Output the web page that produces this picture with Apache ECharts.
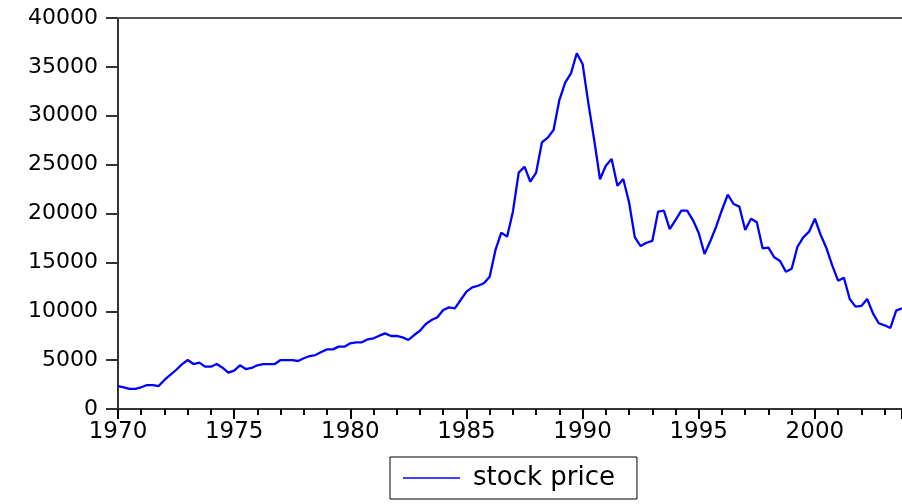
<!DOCTYPE html>
<html>
<head>
<meta charset="utf-8">
<script src="https://cdn.jsdelivr.net/npm/echarts@6/dist/echarts.min.js"></script>
<style>
  html, body { margin: 0; padding: 0; background: #fff; }
  #chart { width: 902px; height: 504px; }
</style>
</head>
<body>
<div id="chart"></div>
<script>
// quarterly stock price, 1970Q1 .. 2003Q4
const startYear = 1970
const seriesName = 'stock price'
const prices = [
  2350, 2220, 2050, 2050, 2220, 2450, 2450, 2350,      // 1970-71
  2970, 3480, 3990, 4570, 5010, 4600, 4740, 4330,      // 1972-73
  4330, 4600, 4230, 3720, 3920, 4470, 4090, 4200,      // 1974-75
  4470, 4600, 4600, 4600, 5010, 5010, 5010, 4910,      // 1976-77
  5190, 5420, 5520, 5830, 6100, 6100, 6380, 6380,      // 1978-79
  6720, 6820, 6820, 7130, 7230, 7500, 7740, 7470,      // 1980-81
  7470, 7330, 7060, 7570, 8010, 8700, 9100, 9380,      // 1982-83
  10130, 10400, 10300, 11150, 12000, 12450, 12610, 12860, // 1984-85
  13540, 16270, 18040, 17630, 20190, 24180, 24790, 23250, // 1986-87
  24180, 27280, 27760, 28540, 31610, 33380, 34340, 36390, // 1988-89
  35300, 31270, 27520, 23500, 24890, 25580, 22850, 23530, // 1990-91
  21150, 17560, 16670, 17010, 17190, 20190, 20290, 18410, // 1992-93
  19330, 20290, 20290, 19330, 18000, 15860, 17190, 18650, // 1994-95
  20360, 21930, 20970, 20700, 18310, 19470, 19100, 16440, // 1996-97
  16500, 15520, 15140, 14050, 14350, 16600, 17560, 18140, // 1998-99
  19470, 17800, 16440, 14660, 13130, 13430, 11250, 10470, // 2000-01
  10540, 11250, 9790, 8770, 8560, 8290, 10060, 10300      // 2002-03
]
const yTicks = [0, 5000, 10000, 15000, 20000, 25000, 30000, 35000, 40000]
const xLabelYears = [1970, 1975, 1980, 1985, 1990, 1995, 2000]

const points = prices.map((v, i) => [startYear + i / 4, v])
const xMax = startYear + (prices.length - 1) / 4

const chart = echarts.init(document.getElementById('chart'))

const option = {
  animation: false,
  backgroundColor: '#fff',
  grid: {
    left: 118,
    right: -3,   // last quarter sits just past the picture's right edge
    top: 18,
    bottom: 95
  },
  legend: {
    data: [seriesName],
    left: 390,
    top: 457,
    icon: 'rect',
    itemWidth: 57,
    itemHeight: 1.5,
    padding: [8, 22, 8, 13],
    borderColor: '#000',
    borderWidth: 1,
    textStyle: {
      fontFamily: 'DejaVu Sans',
      fontSize: 26,
      color: '#000',
      padding: [0, 0, 0, 8]
    }
  },
  xAxis: [
    {
      type: 'value',
      min: startYear,
      max: xMax,
      interval: 5,
      axisLine: { show: true, onZero: false, lineStyle: { color: '#333', width: 2 } },
      axisTick: { show: true, length: 10, lineStyle: { color: '#000', width: 2 } },
      minorTick: { show: true, splitNumber: 5, length: 6, lineStyle: { color: '#000', width: 2 } },
      splitLine: { show: false },
      axisLabel: {
        showMaxLabel: false,
        margin: 12,
        fontFamily: 'DejaVu Sans',
        fontSize: 23,
        color: '#000',
        formatter: v => xLabelYears.includes(v) ? String(v) : ''
      }
    },
    {
      type: 'value',
      position: 'top',
      min: startYear,
      max: xMax,
      axisLine: { show: true, onZero: false, lineStyle: { color: '#555', width: 2 } },
      axisTick: { show: false },
      axisLabel: { show: false },
      splitLine: { show: false }
    }
  ],
  yAxis: {
    type: 'value',
    min: yTicks[0],
    max: yTicks[yTicks.length - 1],
    interval: 5000,
    axisLine: { show: true, lineStyle: { color: '#333', width: 2 } },
    axisTick: { show: true, length: 12, lineStyle: { color: '#333', width: 2 } },
    splitLine: { show: false },
    axisLabel: {
      margin: 20,
      fontFamily: 'DejaVu Sans',
      fontSize: 22,
      color: '#000',
      formatter: v => String(v)
    }
  },
  series: [
    {
      name: seriesName,
      type: 'line',
      data: points,
      symbol: 'none',
      clip: true,
      lineStyle: { color: '#0000ff', width: 2.3 },
      itemStyle: { color: '#0000ff' }
    }
  ]
}

chart.setOption(option)
</script>
</body>
</html>
